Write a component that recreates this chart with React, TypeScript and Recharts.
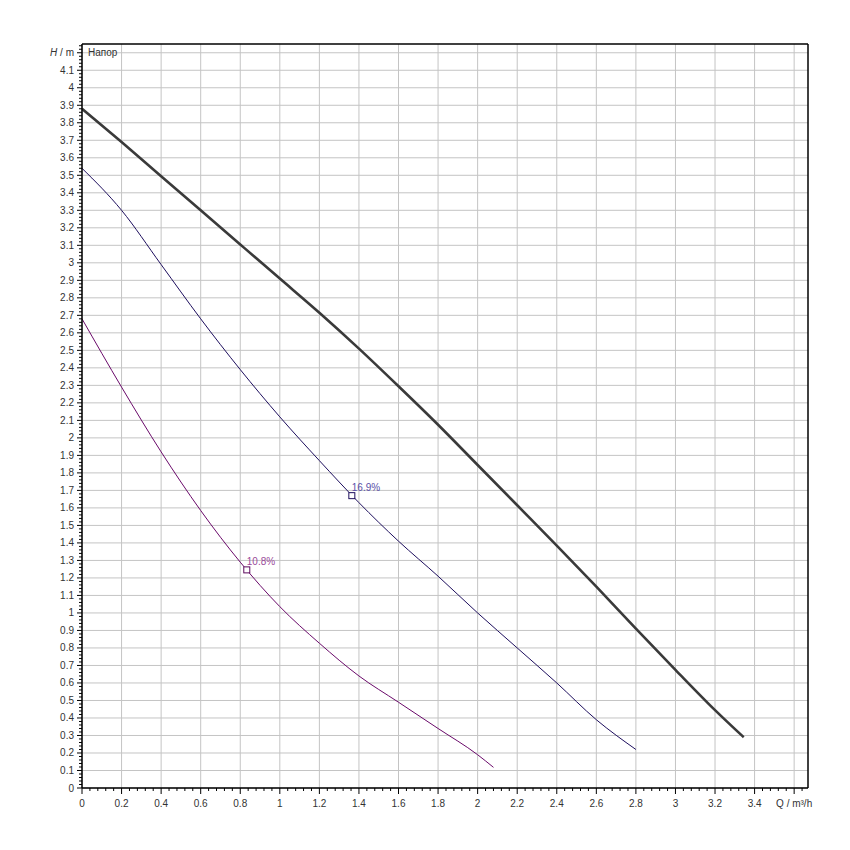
import { ComposedChart, Line, XAxis, YAxis, CartesianGrid, ReferenceLine, ReferenceDot } from "recharts";

// Q / m³/h — H / m, three pump curves
const maxQ = [0, 0.2, 0.4, 0.6, 0.8, 1.0, 1.2, 1.4, 1.6, 1.8, 2.0, 2.2, 2.4, 2.6, 2.8, 3.0, 3.2, 3.345];
const maxH = [3.88, 3.69, 3.495, 3.3, 3.105, 2.91, 2.715, 2.51, 2.295, 2.075, 1.845, 1.615, 1.385, 1.15, 0.91, 0.675, 0.445, 0.29];

const midQ = [0, 0.2, 0.4, 0.6, 0.8, 1.0, 1.2, 1.4, 1.6, 1.8, 2.0, 2.2, 2.4, 2.6, 2.8];
const midH = [3.54, 3.3, 2.99, 2.68, 2.39, 2.12, 1.87, 1.63, 1.41, 1.21, 1.0, 0.8, 0.6, 0.39, 0.22];

const lowQ = [0, 0.2, 0.4, 0.6, 0.8, 1.0, 1.2, 1.4, 1.6, 1.8, 2.0, 2.08];
const lowH = [2.68, 2.29, 1.92, 1.585, 1.29, 1.036, 0.827, 0.64, 0.49, 0.34, 0.19, 0.118];

const marks = [
  { q: 1.364, h: 1.67, label: "16.9%", stroke: "#1e0f5e", text: "#5a50a8" },
  { q: 0.833, h: 1.246, label: "10.8%", stroke: "#5e0a5e", text: "#9a4a9a" },
];

const xMajor = [0, 0.2, 0.4, 0.6, 0.8, 1, 1.2, 1.4, 1.6, 1.8, 2, 2.2, 2.4, 2.6, 2.8, 3, 3.2, 3.4, 3.6];
const yMajor = [0, 0.1, 0.2, 0.3, 0.4, 0.5, 0.6, 0.7, 0.8, 0.9, 1, 1.1, 1.2, 1.3, 1.4, 1.5, 1.6, 1.7, 1.8, 1.9, 2,
  2.1, 2.2, 2.3, 2.4, 2.5, 2.6, 2.7, 2.8, 2.9, 3, 3.1, 3.2, 3.3, 3.4, 3.5, 3.6, 3.7, 3.8, 3.9, 4, 4.1, 4.2];

const X_MAX = 3.67;
const Y_MAX = 4.25;

// minor ticks: every 0.04 on Q, every 0.02 on H
const xTicks = Array.from({ length: 92 }, (_, i) => Math.round(i * 4) / 100);
const yTicks = Array.from({ length: 213 }, (_, i) => Math.round(i * 2) / 100);

const toRows = (qs: number[], hs: number[]) => qs.map((q, i) => ({ q, h: hs[i] }));

const FONT = "'Liberation Sans', Arial, sans-serif";

function XTick({ x, y, payload }: any) {
  const k = Math.round(payload.value * 100);
  const major = k % 20 === 0;
  const label = k === 360 ? "Q / m³/h" : String(payload.value);
  return (
    <g>
      <line x1={x} x2={x} y1={y} y2={y + (major ? 6 : 3)} stroke="#000" />
      {major && (
        <text x={x} y={y + 19} textAnchor="middle" fontSize={10} fontFamily={FONT} fill="#333">
          {label}
        </text>
      )}
    </g>
  );
}

function YTick({ x, y, payload }: any) {
  const k = Math.round(payload.value * 100);
  const major = k % 10 === 0;
  return (
    <g>
      <line x1={x} x2={x - (major ? 5 : 3)} y1={y} y2={y} stroke="#000" />
      {major && (
        <text x={x - 8} y={y + 3.5} textAnchor="end" fontSize={10} fontFamily={FONT} fill="#333">
          {k === 420 ? (
            <>
              <tspan fontStyle="italic">H</tspan> / m
            </>
          ) : (
            String(payload.value)
          )}
        </text>
      )}
    </g>
  );
}

function Marker(props: any) {
  const { cx, cy, m } = props;
  return (
    <g>
      <rect x={cx - 3} y={cy - 3} width={6} height={6} fill="#fff" stroke={m.stroke} strokeWidth={1} />
      <text x={cx} y={cy - 5} fontSize={10} fontFamily={FONT} fill={m.text}>
        {m.label}
      </text>
    </g>
  );
}

export default function App() {
  return (
    <div style={{ position: "absolute", left: 0, top: 0, width: 850, height: 850, background: "#fff" }}>
      <ComposedChart width={850} height={850} margin={{ top: 44, right: 42, bottom: 32, left: 0 }}>
        <CartesianGrid
          stroke="#c4c4c4"
          verticalValues={xMajor}
          horizontalValues={yMajor}
        />
        <XAxis
          type="number"
          dataKey="q"
          domain={[0, X_MAX]}
          ticks={xTicks}
          interval={0}
          allowDataOverflow
          height={30}
          tickSize={0}
          tickMargin={0}
          tickLine={false}
          axisLine={{ stroke: "#000", strokeWidth: 1.5 }}
          tick={<XTick />}
        />
        <YAxis
          type="number"
          dataKey="h"
          domain={[0, Y_MAX]}
          ticks={yTicks}
          interval={0}
          allowDataOverflow
          width={82}
          tickSize={0}
          tickMargin={0}
          tickLine={false}
          axisLine={{ stroke: "#000", strokeWidth: 1.5 }}
          tick={<YTick />}
        />
        <ReferenceLine y={Y_MAX} stroke="#000" strokeWidth={1.5} />
        <ReferenceLine x={X_MAX} stroke="#000" strokeWidth={1.5} />
        <Line
          data={toRows(lowQ, lowH)}
          dataKey="h"
          type="monotone"
          stroke="#6a0a6a"
          strokeWidth={1}
          dot={false}
          isAnimationActive={false}
        />
        <Line
          data={toRows(midQ, midH)}
          dataKey="h"
          type="monotone"
          stroke="#1e0f5e"
          strokeWidth={1}
          dot={false}
          isAnimationActive={false}
        />
        <Line
          data={toRows(maxQ, maxH)}
          dataKey="h"
          type="monotone"
          stroke="#3a3a3a"
          strokeWidth={2.6}
          dot={false}
          isAnimationActive={false}
        />
        {marks.map((m) => (
          <ReferenceDot key={m.label} x={m.q} y={m.h} r={3} shape={(p: any) => <Marker {...p} m={m} />} />
        ))}
      </ComposedChart>
      <div style={{ position: "absolute", left: 88, top: 47, fontSize: 10, fontFamily: FONT, color: "#333" }}>
        Напор
      </div>
    </div>
  );
}
